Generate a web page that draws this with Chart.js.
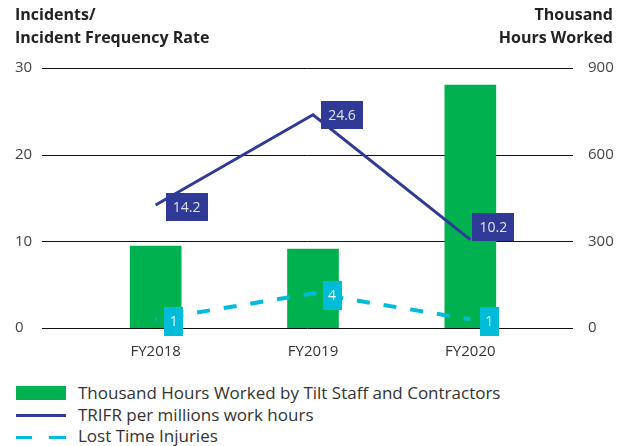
<!DOCTYPE html>
<html>
<head>
<meta charset="utf-8">
<script src="https://cdn.jsdelivr.net/npm/chart.js@4.4.1/dist/chart.umd.min.js"></script>
<style>
  html, body { margin: 0; padding: 0; background: #fff; }
  body { width: 617px; height: 446px; position: relative; overflow: hidden; font-family: "Open Sans", sans-serif; }
  #wrap { position: absolute; left: 0; top: 0; width: 617px; height: 376px; }
  .title { position: absolute; font-weight: 700; font-size: 16px; line-height: 23px; color: #222; }
  #tl { left: 15px; top: 3px; text-align: left; }
  #tr { right: 4px; top: 3px; text-align: right; }
  #legend { position: absolute; left: 16px; top: 382px; font-size: 17px; color: #333; }
  .row { display: flex; align-items: center; height: 21.5px; }
  .sw { width: 50px; height: 21px; position: relative; margin-right: 12px; }
  .box { position: absolute; left: 0; top: 4px; width: 50px; height: 14px; background: #00b14f; }
  .ln { position: absolute; left: 0; top: 10px; width: 50px; height: 3px; background: #2e3a96; }
  .d1 { position: absolute; left: 0; top: 11px; width: 16px; height: 3px; background: #00bcd9; }
  .d2 { position: absolute; left: 33px; top: 11px; width: 17px; height: 3px; background: #00bcd9; }
</style>
</head>
<body>
<div id="wrap"><canvas id="c" width="617" height="376"></canvas></div>
<div class="title" id="tl">Incidents/<br>Incident Frequency Rate</div>
<div class="title" id="tr">Thousand<br>Hours Worked</div>
<div id="legend"></div>
<script>
const categories = ["FY2018", "FY2019", "FY2020"];
const hoursWorked = [284, 273, 841];
const trifr = [14.2, 24.6, 10.2];
const lostTimeInjuries = [1, 4, 1];
const leftTicks = [0, 10, 20, 30];
const rightTicks = [0, 300, 600, 900];
const seriesNames = ["Thousand Hours Worked by Tilt Staff and Contractors", "TRIFR per millions work hours", "Lost Time Injuries"];

const GREEN = "#00b14f", BLUE = "#2e3a96", CYAN = "#00bcd9";

// HTML legend
const legend = document.getElementById("legend");
const swHtml = ['<div class="box"></div>', '<div class="ln"></div>', '<div class="d1"></div><div class="d2"></div>'];
seriesNames.forEach((n, i) => {
  const r = document.createElement("div");
  r.className = "row";
  r.innerHTML = '<div class="sw">' + swHtml[i] + '</div><span>' + n + '</span>';
  legend.appendChild(r);
});

const gridPlugin = {
  id: "extGrid",
  beforeDatasetsDraw(chart) {
    const ctx = chart.ctx, y = chart.scales.y;
    ctx.save();
    ctx.strokeStyle = "#111";
    ctx.lineWidth = 1;
    leftTicks.forEach(v => {
      const py = Math.round(y.getPixelForValue(v)) + 0.5;
      ctx.beginPath();
      ctx.moveTo(42, py);
      ctx.lineTo(573, py);
      ctx.stroke();
    });
    ctx.restore();
  }
};

const labelPlugin = {
  id: "boxLabels",
  afterDatasetsDraw(chart, args, opts) {
    const ctx = chart.ctx;
    ctx.save();
    ctx.font = "14px 'Open Sans', sans-serif";
    ctx.textAlign = "center";
    ctx.textBaseline = "middle";
    opts.sets.forEach(s => {
      const meta = chart.getDatasetMeta(s.index);
      const data = chart.data.datasets[s.index].data;
      meta.data.forEach((pt, i) => {
        const [dx, dy] = s.offsets[i];
        const cx = pt.x + dx, cy = pt.y + dy;
        ctx.fillStyle = s.bg;
        ctx.fillRect(Math.round(cx - s.w / 2), Math.round(cy - s.h / 2), s.w, s.h);
        ctx.fillStyle = s.color;
        ctx.fillText(String(data[i]), cx, cy + 1);
      });
    });
    ctx.restore();
  }
};

new Chart(document.getElementById("c"), {
  data: {
    labels: categories,
    datasets: [
      {
        type: "line", label: seriesNames[1], data: trifr, yAxisID: "y",
        borderColor: BLUE, borderWidth: 3, pointRadius: 0, tension: 0, order: 1, fill: false
      },
      {
        type: "line", label: seriesNames[2], data: lostTimeInjuries, yAxisID: "y",
        borderColor: CYAN, borderWidth: 4, borderDash: [13, 14], borderDashOffset: 12,
        pointRadius: 0, tension: 0, order: 2, fill: false
      },
      {
        type: "bar", label: seriesNames[0], data: hoursWorked, yAxisID: "y1",
        backgroundColor: GREEN, barThickness: 51, order: 3
      }
    ]
  },
  options: {
    responsive: false,
    animation: false,
    layout: { padding: { top: 68, left: 15, right: 0, bottom: 0 } },
    plugins: {
      legend: { display: false },
      tooltip: { enabled: false },
      boxLabels: {
        sets: [
          { index: 0, bg: BLUE, color: "#e2e3f3", w: 42, h: 28, offsets: [[31, 2], [29, 0], [23, -13]] },
          { index: 1, bg: CYAN, color: "#e6f8fc", w: 19, h: 29, offsets: [[18, 2], [19, 2], [19, 2]] }
        ]
      }
    },
    scales: {
      x: {
        type: "category",
        grid: { display: false, drawTicks: false },
        border: { display: false },
        ticks: { color: "#333", font: { family: "'Open Sans', sans-serif", size: 15 }, padding: 15 },
        afterFit(s) { s.height = 36; }
      },
      y: {
        position: "left", min: 0, max: 30,
        afterBuildTicks(s) { s.ticks = leftTicks.map(v => ({ value: v })); },
        grid: { display: false, drawTicks: false },
        border: { display: false },
        ticks: { color: "#444", crossAlign: "far", font: { family: "'Open Sans', sans-serif", size: 15 } },
        afterFit(s) { s.width = 62; }
      },
      y1: {
        position: "right", min: 0, max: 900,
        afterBuildTicks(s) { s.ticks = rightTicks.map(v => ({ value: v })); },
        grid: { display: false, drawTicks: false },
        border: { display: false },
        ticks: { color: "#444", padding: 39, font: { family: "'Open Sans', sans-serif", size: 15 } },
        afterFit(s) { s.width = 68; }
      }
    }
  },
  plugins: [gridPlugin, labelPlugin]
});
</script>
</body>
</html>
